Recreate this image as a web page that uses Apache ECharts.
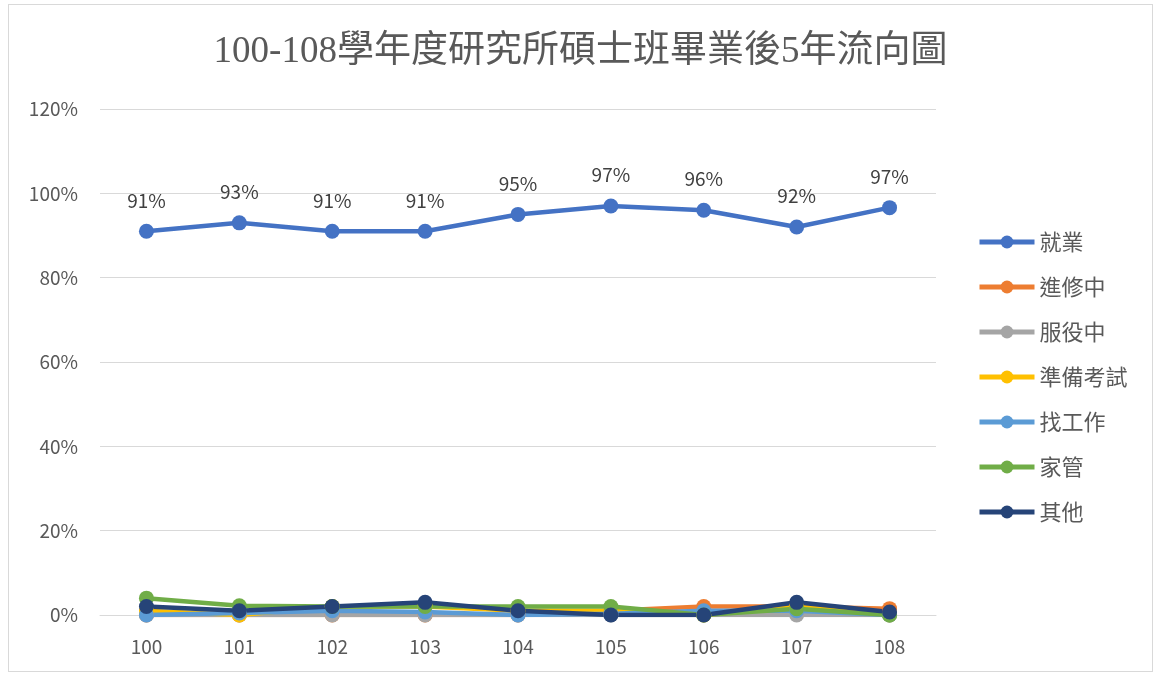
<!DOCTYPE html>
<html>
<head>
<meta charset="utf-8">
<script src="https://cdn.jsdelivr.net/npm/echarts@6/dist/echarts.min.js"></script>
<style>
  html, body { margin: 0; padding: 0; background: #fff; }
  #chart { position: absolute; left: 8px; top: 4px; width: 1145px; height: 668px; border: 1px solid #d9d9d9; box-sizing: border-box; }
</style>
</head>
<body>
<div id="chart"></div>
<script>
const years = ['100', '101', '102', '103', '104', '105', '106', '107', '108']
const employed = [91, 93, 91, 91, 95, 97, 96, 92, 96.6]
const studying = [0, 0, 0, 0, 0, 1, 2, 2, 1.5]
const military = [0, 0, 0, 0, 0, 0, 0, 0, 0]
const exams = [1, 0, 2, 2, 1, 1, 0, 2, 0]
const jobSeeking = [0, 0.5, 1, 0.7, 0, 0.3, 1, 1, 0]
const homemaker = [4, 2.2, 2, 2, 2, 2, 0, 1.5, 0]
const other = [2, 1, 2, 3, 1, 0, 0, 3, 0.7]

const chart = echarts.init(document.getElementById('chart'))

const mk = (name, data, color, withLabel) => ({
  name,
  type: 'line',
  data,
  symbol: 'circle',
  symbolSize: 15,
  lineStyle: { width: 4.5, color },
  itemStyle: { color },
  label: withLabel ? {
    show: true,
    position: 'top',
    distance: 14,
    fontSize: 19,
    color: '#404040',
    fontFamily: 'Noto Sans CJK TC',
    formatter: p => Math.round(p.value) + '%',
  } : { show: false },
  emphasis: { disabled: true },
})

chart.setOption({
  backgroundColor: '#fff',
  animation: false,
  title: {
    text: '100-108學年度研究所碩士班畢業後5年流向圖',
    left: 'center',
    top: 24,
    textStyle: { fontSize: 37, fontWeight: 'normal', color: '#595959', fontFamily: 'Liberation Serif, Noto Sans CJK TC' },
  },
  legend: {
    orient: 'vertical',
    left: 968,
    top: 226,
    padding: 0,
    itemWidth: 55,
    itemHeight: 16,
    itemGap: 23,
    lineStyle: { width: 5 },
    textStyle: { fontSize: 22, color: '#595959', fontFamily: 'Noto Sans CJK TC' },
  },
  grid: { left: 91, right: 216, top: 104, bottom: 56, containLabel: false },
  xAxis: {
    type: 'category',
    data: years,
    boundaryGap: true,
    axisLine: { lineStyle: { color: '#d9d9d9', width: 1 } },
    axisTick: { show: false },
    axisLabel: { fontSize: 19, color: '#595959', margin: 22, fontFamily: 'Noto Sans CJK TC' },
  },
  yAxis: {
    type: 'value',
    min: 0,
    max: 120,
    interval: 20,
    axisLine: { show: false },
    axisTick: { show: false },
    splitLine: { lineStyle: { color: '#d9d9d9' } },
    axisLabel: { fontSize: 19, color: '#595959', margin: 22, formatter: '{value}%', fontFamily: 'Noto Sans CJK TC' },
  },
  series: [
    mk('就業', employed, '#4472c4', true),
    mk('進修中', studying, '#ed7d31'),
    mk('服役中', military, '#a5a5a5'),
    mk('準備考試', exams, '#ffc000'),
    mk('找工作', jobSeeking, '#5b9bd5'),
    mk('家管', homemaker, '#70ad47'),
    mk('其他', other, '#264478'),
  ],
})
</script>
</body>
</html>
